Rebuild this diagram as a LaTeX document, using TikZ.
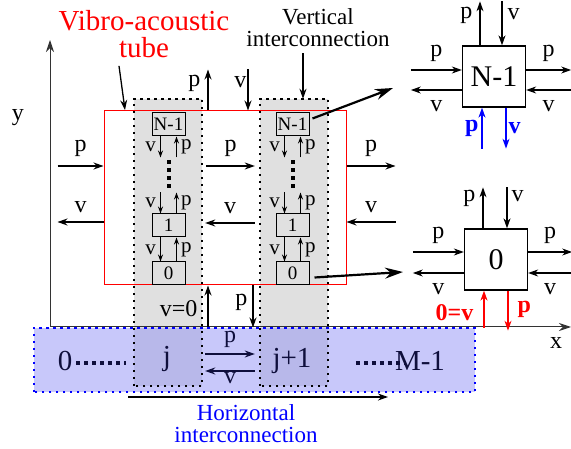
\documentclass[tikz,border=0pt]{standalone}
\usepackage{fontspec}
\setmainfont{Liberation Serif}
\usepackage{xcolor}
\usetikzlibrary{arrows.meta,positioning,calc}
\definecolor{bandblue}{RGB}{145,145,245}
\definecolor{navy}{RGB}{15,15,60}

\begin{document}
\begin{tikzpicture}[
    x=1pt, y=-1pt,
    arr/.style={-{Stealth[length=10pt,width=7pt]}, line width=1.3pt},
    sarr/.style={-{Stealth[length=7pt,width=5pt]}, line width=1.1pt},
    bigarr/.style={-{Stealth[length=18pt,width=11pt]}, line width=2.2pt},
    lbl/.style={font=\fontsize{24}{24}\selectfont, inner sep=1pt},
    slbl/.style={font=\fontsize{21}{21}\selectfont, inner sep=1pt},
    biglbl/.style={font=\fontsize{29}{29}\selectfont, inner sep=1pt, text=navy},
    column/.style={fill=black!12, minimum width=68, minimum height=287, inner sep=0pt},
    cell/.style={draw, line width=1pt, minimum width=33, minimum height=23, inner sep=0pt, font=\fontsize{19}{19}\selectfont},
    bigbox/.style={draw, line width=1.3pt, minimum width=63, minimum height=61, inner sep=0pt, font=\fontsize{30}{30}\selectfont},
    dotline/.style={line width=2.5pt, dash pattern=on 2.5pt off 4.5pt},
    bigdots/.style={line width=4pt, dash pattern=on 4pt off 4pt}
]
    \useasboundingbox (0,0) rectangle (571,449);

    % vertical interconnection columns
    \node[column] (colA) at (168,242.5) {};
    \node[column] (colB) at (294,242.5) {};

    % vibro-acoustic tube
    \node[draw=red, line width=1pt, minimum width=242, minimum height=174, inner sep=0pt] (tube) at (225,198) {};

    % axes
    \coordinate (O) at (50,327);
    \coordinate (ytip) at (50,40);
    \coordinate (xtip) at (571,327);
    \draw[black!80, line width=1pt, -{Stealth[length=12pt,width=8pt]}] (O) -- (ytip);
    \draw[black!80, line width=1pt, -{Stealth[length=12pt,width=8pt]}] (O) -- (xtip);
    \node[lbl] (ylbl) at (18,118) {y};
    \node[lbl] (xlbl) at (556,343) {x};

    % cells of column j
    \node[cell] (topA) at (168.5,124.5) {N-1};
    \node[cell] (oneA) at (168.5,225.5) {1};
    \node[cell, below=24pt of oneA] (zeroA) {0};
    \draw[sarr] ([xshift=-8]topA.south) -- ++(0,21) node[midway, left=3pt, slbl] {v};
    \draw[sarr] ([xshift=8]topA.south) ++(0,21) -- ([xshift=8]topA.south) node[midway, right=3pt, slbl] {p};
    \draw[bigdots] ($(topA.south)+(0,24)$) -- ++(0,28);
    \draw[sarr] ([xshift=-8]oneA.north) ++(0,-21) -- ([xshift=-8]oneA.north) node[midway, left=3pt, slbl] {v};
    \draw[sarr] ([xshift=8]oneA.north) -- ++(0,-21) node[midway, right=3pt, slbl] {p};
    \draw[sarr] ([xshift=-8]oneA.south) -- ([xshift=-8]zeroA.north) node[midway, left=3pt, slbl] {v};
    \draw[sarr] ([xshift=8]zeroA.north) -- ([xshift=8]oneA.south) node[midway, right=3pt, slbl] {p};

    % cells of column j+1
    \node[cell, right=90pt of topA] (topB) {N-1};
    \node[cell, right=90pt of oneA] (oneB) {1};
    \node[cell, right=90pt of zeroA] (zeroB) {0};
    \draw[sarr] ([xshift=-8]topB.south) -- ++(0,21) node[midway, left=3pt, slbl] {v};
    \draw[sarr] ([xshift=8]topB.south) ++(0,21) -- ([xshift=8]topB.south) node[midway, right=3pt, slbl] {p};
    \draw[bigdots] ($(topB.south)+(0,24)$) -- ++(0,28);
    \draw[sarr] ([xshift=-8]oneB.north) ++(0,-21) -- ([xshift=-8]oneB.north) node[midway, left=3pt, slbl] {v};
    \draw[sarr] ([xshift=8]oneB.north) -- ++(0,-21) node[midway, right=3pt, slbl] {p};
    \draw[sarr] ([xshift=-8]oneB.south) -- ([xshift=-8]zeroB.north) node[midway, left=3pt, slbl] {v};
    \draw[sarr] ([xshift=8]zeroB.north) -- ([xshift=8]oneB.south) node[midway, right=3pt, slbl] {p};

    % p and v around the tube
    \draw[arr] ($(tube.west)+(-46,-32)$) -- ($(tube.west)+(0,-32)$) node[midway, above=8pt, lbl] {p};
    \draw[arr] ($(tube.west)+(0,24)$) -- ++(-46,0) node[midway, above=8pt, lbl] {v};
    \draw[arr] ($(colA.east)+(4,-76.5)$) -- ($(colB.west)+(-5,-76.5)$) node[midway, above=8pt, lbl] {p};
    \draw[arr] ($(colB.west)+(-5,-19.5)$) -- ($(colA.east)+(3,-19.5)$) node[midway, above=8pt, lbl] {v};
    \draw[arr] ($(tube.east)+(0,-32)$) -- ++(49,0) node[midway, above=8pt, lbl] {p};
    \draw[arr] ($(tube.east)+(49,24)$) -- ($(tube.east)+(0,24)$) node[midway, above=8pt, lbl] {v};
    \draw[arr] ($(tube.north)+(-17,0)$) -- ++(0,-41) node[pos=0.67, left=6pt, lbl] {p};
    \draw[arr] ($(tube.north)+(23,-41)$) -- ($(tube.north)+(23,0)$) node[pos=0.3, left=0pt, lbl] {v};
    \draw[arr] ($(tube.south)+(-17,42)$) -- ($(tube.south)+(-17,0)$) node[pos=0.45, left=9pt, lbl] {v=0};
    \draw[arr] ($(tube.south)+(28,0)$) -- ++(0,42) node[pos=0.4, left=4pt, lbl] {p};

    % horizontal line of cells
    \node[fill=bandblue, fill opacity=0.5, minimum width=441, minimum height=64, inner sep=0pt] (horiz) at (254.5,360) {};
    \node[biglbl] (hz0) at (65,361) {0};
    \node[biglbl] (hzj) at (167,359) {j};
    \node[biglbl] (hzj1) at (292,361) {j+1};
    \node[biglbl] (hzM) at (420,361) {M-1};
    \draw[bigdots, navy] ([xshift=3pt,yshift=-2pt]hz0.east) -- ++(50,0);
    \draw[bigdots, navy] ($(hzM.west)+(-38,2)$) -- ++(50,0);
    \draw[arr, navy] ($(colA.east)+(3,111.5)$) -- ($(colB.west)+(-5,111.5)$) node[midway, above=5pt, lbl, text=navy] {p};
    \draw[arr, navy] ($(colB.west)+(-5,128.5)$) -- ($(colA.east)+(3,128.5)$) node[midway, below=0pt, lbl, text=navy] {v};

    % dotted borders
    \draw[dotline] (colA.south west) rectangle (colA.north east);
    \draw[dotline] (colB.south west) rectangle (colB.north east);
    \draw[dotline, blue] (horiz.south west) rectangle (horiz.north east);

    % titles
    \node[font=\fontsize{29}{27}\selectfont, text=red, align=center, inner sep=0pt] (tubelbl) at (144,34) {Vibro-acoustic\\tube};
    \coordinate (tubetip) at (125,110);
    \draw[arr] ([xshift=-25]tubelbl.south) ++(0,8) -- (tubetip);
    \node[font=\fontsize{23}{22}\selectfont, align=center, inner sep=0pt] (vertlbl) at (318,28) {Vertical\\interconnection};
    \draw[arr] ([xshift=-15]vertlbl.south) ++(0,6) -- ([xshift=9]colB.north);
    \node[font=\fontsize{23}{22}\selectfont, text=blue, align=center, inner sep=0pt] (horlbl) at (246,424) {Horizontal\\interconnection};
    \coordinate (hs) at (128,397);
    \coordinate (he) at (388,397);
    \draw[arr] (hs) -- (he);

    % zoom on cell N-1
    \node[bigbox] (bigN) at (494,76.5) {N-1};
    \coordinate (zoomN) at (393,88);
    \draw[bigarr] ($(topB.east)+(3,-6)$) -- (zoomN);
    \draw[arr] ([xshift=-14]bigN.north) -- ++(0,-44) node[pos=0.68, left=6pt, lbl] {p};
    \draw[arr] ($(bigN.north)+(8,-44)$) -- ([xshift=8]bigN.north) node[pos=0.3, right=4pt, lbl] {v};
    \draw[arr] ($(bigN.west)+(-51,-6.5)$) -- ($(bigN.west)+(0,-6.5)$) node[midway, above=7pt, lbl] {p};
    \draw[arr] ($(bigN.west)+(0,13.5)$) -- ++(-51,0) node[midway, below=9pt, lbl] {v};
    \draw[arr] ($(bigN.east)+(0,-6.5)$) -- ++(45,0) node[midway, above=7pt, lbl] {p};
    \draw[arr] ($(bigN.east)+(45,13.5)$) -- ($(bigN.east)+(0,13.5)$) node[midway, below=9pt, lbl] {v};
    \draw[arr, blue] ($(bigN.south)+(-12,41)$) -- ([xshift=-12]bigN.south) node[midway, left=2pt, lbl, text=blue] {\textbf{p}};
    \draw[arr, blue] ([xshift=12]bigN.south) -- ++(0,41) node[midway, right=1pt, lbl, text=blue] {\textbf{v}};

    % zoom on cell 0
    \node[bigbox] (bigZ) at (496,259.5) {0};
    \coordinate (zoomZ) at (403,272);
    \draw[bigarr] ($(zeroB.east)+(5,4)$) -- (zoomZ);
    \draw[arr] ([xshift=-13]bigZ.north) -- ++(0,-41) node[pos=0.73, left=6pt, lbl] {p};
    \draw[arr] ($(bigZ.north)+(11,-41)$) -- ([xshift=11]bigZ.north) node[pos=0.22, right=3pt, lbl] {v};
    \draw[arr] ($(bigZ.west)+(-51,-7.5)$) -- ($(bigZ.west)+(0,-7.5)$) node[midway, above=7pt, lbl] {p};
    \draw[arr] ($(bigZ.west)+(0,13.5)$) -- ++(-51,0) node[midway, below=9pt, lbl] {v};
    \draw[arr] ($(bigZ.east)+(0,-7.5)$) -- ++(44,0) node[midway, above=7pt, lbl] {p};
    \draw[arr] ($(bigZ.east)+(44,13.5)$) -- ($(bigZ.east)+(0,13.5)$) node[midway, below=9pt, lbl] {v};
    \draw[arr, red] ($(bigZ.south)+(-12,37)$) -- ([xshift=-12]bigZ.south) node[pos=0.4, left=9pt, lbl, text=red] {\textbf{0=v}};
    \draw[arr, red] ([xshift=12]bigZ.south) -- ++(0,40) node[pos=0.48, right=8pt, lbl, text=red] {\textbf{p}};
\end{tikzpicture}
\end{document}
